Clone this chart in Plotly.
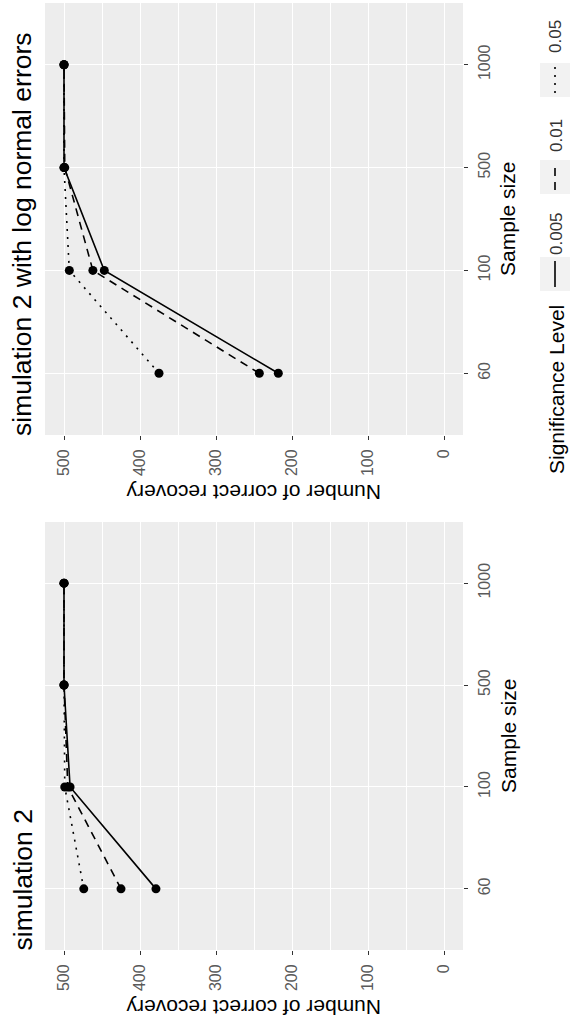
import plotly.graph_objects as go

W, H = 570, 1029

# Sample sizes (categorical axis) and significance levels
sample_sizes = ["60", "100", "500", "1000"]
levels = ["0.005", "0.01", "0.05"]

# simulation 2: number of correct recoveries per significance level
sim2_a005 = [379, 492, 500, 500]
sim2_a01 = [425, 495, 500, 500]
sim2_a05 = [474, 499, 500, 500]

# simulation 2 with log normal errors
lognorm_a005 = [218, 447, 500, 500]
lognorm_a01 = [243, 462, 499, 500]
lognorm_a05 = [375, 493, 500, 500]

value_ticks = [0, 100, 200, 300, 400, 500]

dashes = {"0.005": "solid", "0.01": "8px,6px", "0.05": "2px,6px"}

FONT = "Liberation Sans, Arial, sans-serif"
PANEL_BG = "#EDEDED"


def px(x):
    return x / W


def py(y):
    return 1 - y / H


fig = go.Figure()

panels = [
    ("x", "y", [lognorm_a005, lognorm_a01, lognorm_a05]),
    ("x2", "y2", [sim2_a005, sim2_a01, sim2_a05]),
]

for xa, ya, series in panels:
    for lev, vals in zip(levels, series):
        fig.add_trace(go.Scatter(
            x=vals, y=sample_sizes, xaxis=xa, yaxis=ya,
            mode="lines", line=dict(color="black", width=1.6, dash=dashes[lev]),
            showlegend=False, hoverinfo="skip"))
    for lev, vals in zip(levels, series):
        fig.add_trace(go.Scatter(
            x=vals, y=sample_sizes, xaxis=xa, yaxis=ya,
            mode="markers", marker=dict(color="black", size=9),
            name=lev, showlegend=False))

# panel geometry in pixels: (top, bottom)
panel_px = [(3, 435), (522, 950)]
px_left, px_right = 45, 463

value_axis = dict(
    range=[525, -25], tickvals=value_ticks, tickangle=-90,
    showgrid=True, gridcolor="white", gridwidth=1.4,
    minor=dict(dtick=50, tick0=0, showgrid=True, gridcolor="white", gridwidth=0.6),
    ticks="outside", ticklen=4, tickcolor="#333333", tickwidth=1,
    tickfont=dict(family=FONT, size=16, color="#5a5a5a"),
    zeroline=False, showline=False, automargin=False, fixedrange=True,
    ticklabelstandoff=3,
)
size_axis = dict(
    type="category", categoryorder="array", categoryarray=sample_sizes,
    range=[-0.6, 3.6], side="right", tickangle=-90,
    showgrid=True, gridcolor="white", gridwidth=1.4,
    ticks="outside", ticklen=4, tickcolor="#333333", tickwidth=1,
    tickfont=dict(family=FONT, size=16, color="#5a5a5a"),
    zeroline=False, showline=False, automargin=False, fixedrange=True,
    ticklabelstandoff=3,
)

fig.update_layout(
    width=W, height=H, autosize=False,
    margin=dict(l=0, r=0, t=0, b=0),
    paper_bgcolor="white", plot_bgcolor=PANEL_BG,
    xaxis=dict(value_axis, domain=[px(px_left), px(px_right)], anchor="y"),
    yaxis=dict(size_axis, domain=[py(panel_px[0][1]), py(panel_px[0][0])], anchor="x"),
    xaxis2=dict(value_axis, domain=[px(px_left), px(px_right)], anchor="y2"),
    yaxis2=dict(size_axis, domain=[py(panel_px[1][1]), py(panel_px[1][0])], anchor="x2"),
)

annotations = []
shapes = []


def text(t, x, y, angle, size, color="black", xanchor="center", yanchor="middle"):
    annotations.append(dict(
        text=t, x=px(x), y=py(y), xref="paper", yref="paper",
        textangle=angle, showarrow=False, xanchor=xanchor, yanchor=yanchor,
        font=dict(family=FONT, size=size, color=color)))


# panel titles, axis titles
titles = ["simulation 2 with log normal errors", "simulation 2"]
for (top, bottom), title in zip(panel_px, titles):
    text(title, 22, bottom + 3, -90, 26.5, yanchor="bottom")
    text("Sample size", 508, (top + bottom) / 2, -90, 21)
    text("Number of correct recovery", (px_left + px_right) / 2, bottom + 57, 180, 21)

# legend drawn along the right edge
text("Significance Level", 556, 390, -90, 21)
legend_items = [("0.005", 257, 234), ("0.01", 160, 136), ("0.05", 63, 37)]
for lev, box_top, label_y in legend_items:
    shapes.append(dict(type="rect", xref="paper", yref="paper",
                       x0=px(540), x1=px(570), y0=py(box_top + 34), y1=py(box_top),
                       fillcolor="#F2F2F2", line=dict(width=0), layer="below"))
    shapes.append(dict(type="line", xref="paper", yref="paper",
                       x0=px(555), x1=px(555), y0=py(box_top + 30), y1=py(box_top + 4),
                       line=dict(color="black", width=1.6, dash=dashes[lev])))
    text(lev, 556, label_y, -90, 17, color="#333333")

fig.update_layout(annotations=annotations, shapes=shapes)

fig.write_html("out.html")
